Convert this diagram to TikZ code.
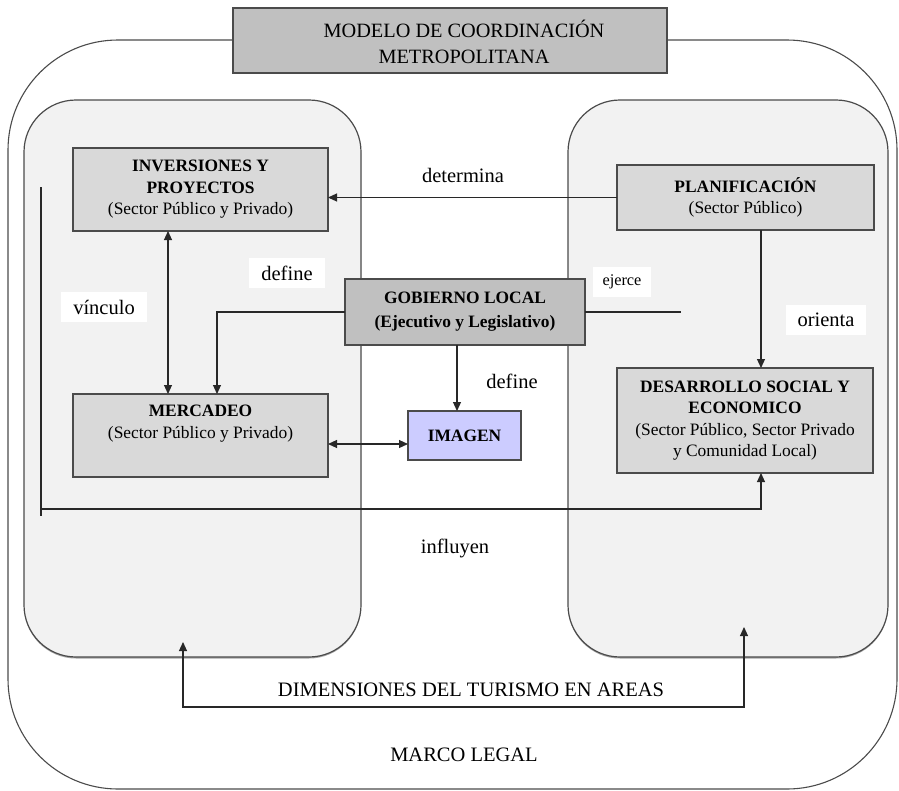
\documentclass[tikz,border=0pt]{standalone}
\usepackage{fontspec}
\setmainfont{Liberation Serif}
\usetikzlibrary{arrows.meta,calc,shadows}
\definecolor{panelgray}{RGB}{242,242,242}
\definecolor{boxgray}{RGB}{217,217,217}
\definecolor{darkbox}{RGB}{192,192,192}
\definecolor{lav}{RGB}{204,204,255}
\definecolor{edge}{RGB}{75,75,75}
\definecolor{lineblack}{RGB}{40,40,40}
\begin{document}
\begin{tikzpicture}[x=1pt,y=-1pt,
  outerline/.style={draw=edge,line width=1.1pt,rounded corners=110pt},
  panel/.style={draw=edge,fill=panelgray,line width=1.2pt,rounded corners=52pt,inner sep=0pt,outer sep=0pt,
     drop shadow={shadow xshift=0pt,shadow yshift=-1.5pt,opacity=0.35,fill=black}},
  box/.style={draw=edge,fill=boxgray,line width=1.1pt,inner sep=0pt,outer sep=0pt,align=center,
     font=\fontsize{17.4pt}{21.5pt}\selectfont},
  dbox/.style={box,fill=darkbox},
  lbox/.style={box,fill=lav},
  lbl/.style={font=\fontsize{20.5pt}{24pt}\selectfont,inner sep=0pt},
  wlbl/.style={lbl,fill=white,inner xsep=12pt,inner ysep=8pt},
  conn/.style={draw=lineblack,line width=1.1pt},
  tip/.style={-{Triangle[length=9pt,width=8pt]}},
  tips/.style={{Triangle[length=9pt,width=8pt]}-{Triangle[length=9pt,width=8pt]}}
]
\useasboundingbox (0,0) rectangle (899,790);
% outer frame (marco legal)
\draw[outerline] (8,40) rectangle (897,789);
% title
\node[dbox,minimum width=434pt,minimum height=65pt] (title) at (450,40.5) {};
\node[font=\fontsize{20.3pt}{26pt}\selectfont,align=center,inner sep=0pt] (titletext) at (464,42)
  {MODELO DE COORDINACIÓN\\METROPOLITANA};
% panels
\node[panel,minimum width=337pt,minimum height=557pt] (lp) at (192.5,378.5) {};
\node[panel,minimum width=320pt,minimum height=557pt] (rp) at (728,378.5) {};
% boxes
\node[box,minimum width=255pt,minimum height=83pt] (inv) at (200.5,189.5)
  {\textbf{INVERSIONES Y}\\\textbf{PROYECTOS}\\(Sector Público y Privado)};
\node[box,minimum width=255pt,minimum height=83pt] (merc) at (200.5,435.5) {};
\node[align=center,inner sep=0pt,font=\fontsize{17.4pt}{22pt}\selectfont] (merctext) at (200.5,424)
  {\textbf{MERCADEO}\\(Sector Público y Privado)};
\node[box,minimum width=257pt,minimum height=65pt] (plan) at (745.5,197.5)
  {\textbf{PLANIFICACIÓN}\\(Sector Público)};
\node[dbox,minimum width=240pt,minimum height=66pt,font=\bfseries\fontsize{17.4pt}{24pt}\selectfont] (gob) at (465,312)
  {GOBIERNO LOCAL\\(Ejecutivo y Legislativo)};
\node[lbox,minimum width=113pt,minimum height=49pt] (img) at (464.5,435.5) {\textbf{IMAGEN}};
\node[box,minimum width=256pt,minimum height=105pt] (des) at (745,420.5)
  {\textbf{DESARROLLO SOCIAL Y}\\\textbf{ECONOMICO}\\(Sector Público, Sector Privado\\y Comunidad Local)};
% helper coordinates
\coordinate (vx) at (168,0);
\coordinate (gx) at (217,0);
\coordinate (ix) at (457,0);
\coordinate (my) at (0,444);
\coordinate (px) at (761,0);
\coordinate (ej) at (681,312);
\coordinate (i1) at (41,187);
\coordinate (i2) at (41,516);
\coordinate (i3) at (41,509);
\coordinate (b1) at (183,642);
\coordinate (b1c) at (183,707);
\coordinate (b2) at (744,627);
% connectors
\draw[conn,tip] (plan.west) -- (plan.west -| inv.east);
\draw[conn,tips] (inv.south -| vx) -- (merc.north -| vx);
\draw[conn,tip] (gob.west) -| (merc.north -| gx);
\draw[conn,tip] (gob.south -| ix) -- (img.north -| ix);
\draw[conn,tips] (merc.east |- my) -- (img.west |- my);
\draw[conn] (gob.east) -- (ej);
\draw[conn,tip] (plan.south -| px) -- (des.north -| px);
\draw[conn] (i1) -- (i2);
\draw[conn,tip] (i3) -| (des.south -| px);
\draw[conn,tips] (b1) -- (b1c) -| (b2);
% labels
\node[lbl] (ldetermina) at (463,175) {determina};
\node[wlbl] (ldefine1) at (287,273) {define};
\node[wlbl] (lvinculo) at (104,307) {vínculo};
\node[lbl,fill=white,inner xsep=10pt,inner ysep=8pt,font=\fontsize{16.3pt}{20pt}\selectfont] (lejerce) at (622,282) {ejerce};
\node[wlbl] (lorienta) at (826,320) {orienta};
\node[lbl] (ldefine2) at (512,381) {define};
\node[lbl] (linfluyen) at (455,548) {influyen};
\node[lbl] (ldim) at (471,690) {DIMENSIONES DEL TURISMO EN AREAS};
\node[lbl] (lmarco) at (464,755) {MARCO LEGAL};
\end{tikzpicture}
\end{document}
